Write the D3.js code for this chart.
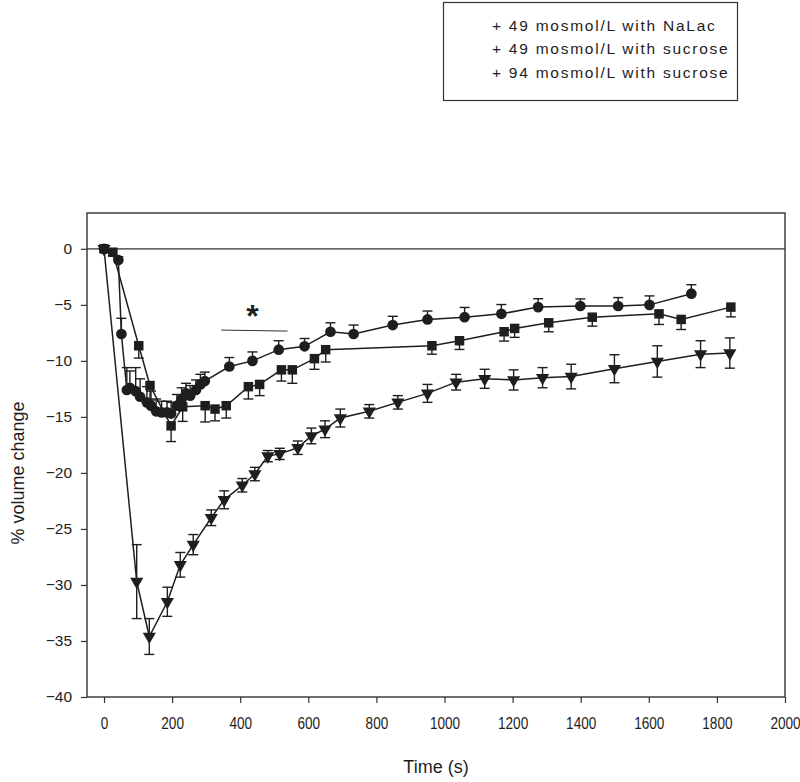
<!DOCTYPE html>
<html>
<head>
<meta charset="utf-8">
<script src="https://cdn.jsdelivr.net/npm/d3@7"></script>
<style>
  html, body { margin: 0; padding: 0; background: #fff; }
  svg { display: block; font-family: "Liberation Sans", Arial, sans-serif; }
</style>
</head>
<body>
<svg id="chart" width="800" height="782"></svg>
<script>
// ---- data ----
const legendLabels = ["+ 49 mosmol/L with NaLac", "+ 49 mosmol/L with sucrose", "+ 94 mosmol/L with sucrose"];

const nalacTime = [0, 42, 51, 67, 76, 93, 106, 126, 138, 153, 169, 185, 197, 214, 228, 241, 253, 270, 283, 296, 368, 436, 513, 589, 665, 733, 848, 950, 1059, 1167, 1275, 1399, 1510, 1602, 1725];
const nalacValue = [0, -1.0, -7.6, -12.6, -12.4, -12.7, -13.2, -13.7, -14.0, -14.5, -14.6, -14.6, -14.7, -14.0, -13.4, -12.9, -13.1, -12.6, -12.1, -11.8, -10.5, -10.0, -9.0, -8.7, -7.4, -7.6, -6.8, -6.3, -6.1, -5.8, -5.2, -5.1, -5.1, -5.0, -4.0];
const nalacErr = [0, 0.3, 1.4, 2.0, 1.5, 2.1, 1.6, 1.4, 1.3, 1.1, 1.0, 1.0, 1.0, 1.0, 1.0, 0.9, 0.9, 0.9, 0.9, 0.8, 0.8, 0.8, 0.8, 0.7, 0.8, 0.8, 0.78, 0.75, 0.87, 0.83, 0.75, 0.63, 0.75, 0.8, 0.8];

const suc49Time = [0, 26, 102, 135, 197, 231, 297, 326, 359, 424, 457, 521, 553, 618, 651, 963, 1044, 1175, 1206, 1306, 1434, 1630, 1695, 1841];
const suc49Value = [0, -0.3, -8.65, -12.2, -15.8, -14.1, -14.0, -14.3, -14.0, -12.3, -12.1, -10.8, -10.8, -9.8, -9.0, -8.65, -8.2, -7.4, -7.1, -6.6, -6.1, -5.8, -6.3, -5.2];
const suc49Err = [0, 0.3, 1.1, 1.3, 1.4, 1.3, 1.45, 1.05, 1.1, 1.1, 1.0, 1.0, 1.2, 0.95, 1.1, 0.75, 0.78, 0.83, 0.8, 0.8, 0.8, 0.95, 0.9, 0.87];

const suc94Time = [0, 96, 133, 186, 224, 262, 315, 353, 406, 443, 481, 516, 569, 609, 649, 694, 779, 863, 950, 1034, 1118, 1203, 1288, 1372, 1499, 1625, 1752, 1838];
const suc94Value = [0, -29.7, -34.6, -31.5, -28.2, -26.4, -24.0, -22.4, -21.1, -20.1, -18.5, -18.3, -17.75, -16.7, -16.1, -15.1, -14.5, -13.7, -12.9, -11.9, -11.6, -11.7, -11.5, -11.4, -10.7, -10.05, -9.4, -9.3];
const suc94Err = [0, 3.3, 1.6, 1.3, 1.1, 0.9, 0.7, 0.8, 0.6, 0.6, 0.5, 0.5, 0.6, 0.7, 0.75, 0.8, 0.6, 0.6, 0.8, 0.7, 0.85, 0.9, 0.9, 1.1, 1.25, 1.4, 1.2, 1.35];

const xTicks = [0, 200, 400, 600, 800, 1000, 1200, 1400, 1600, 1800, 2000];
const yTicks = [0, -5, -10, -15, -20, -25, -30, -35, -40];

const sigBar = { t0: 344, t1: 539, v: -7.25, starT: 436, starV: -5.6 };

// ---- layout ----
const svg = d3.select("#chart");
const x = d3.scaleLinear().domain([-50, 2000]).range([87, 785]);
const y = d3.scaleLinear().domain([-40, 3.2]).range([697, 213]);
const ink = "#1e1e1e";

// legend box
const lg = svg.append("g");
lg.append("rect").attr("x", 443.5).attr("y", 2.5).attr("width", 294).attr("height", 98)
  .attr("fill", "none").attr("stroke", "#333").attr("stroke-width", 1.2);
legendLabels.forEach((s, i) => {
  lg.append("text").attr("x", 492).attr("y", 30.5 + i * 23.5)
    .attr("font-size", 15.5).attr("letter-spacing", 1.75).attr("fill", ink).text(s);
});

// frame
svg.append("rect").attr("x", x(-50)).attr("y", y(3.2))
  .attr("width", x(2000) - x(-50)).attr("height", y(-40) - y(3.2))
  .attr("fill", "none").attr("stroke", "#333").attr("stroke-width", 1.4);

// axes
const xAxis = d3.axisBottom(x).tickValues(xTicks).tickSize(6).tickPadding(14).tickFormat(d3.format("d"));
const gx = svg.append("g").attr("transform", `translate(0,${y(-40)})`).call(xAxis);
gx.select(".domain").remove();
gx.selectAll("line").attr("stroke", "#333").attr("stroke-width", 1.2);
gx.selectAll("text").attr("font-size", 17).attr("fill", ink).attr("transform", "scale(0.8,1)");

const yAxis = d3.axisLeft(y).tickValues(yTicks).tickSize(6).tickPadding(9).tickFormat(d3.format("d"));
const gy = svg.append("g").attr("transform", `translate(${x(-50)},0)`).call(yAxis);
gy.select(".domain").remove();
gy.selectAll("line").attr("stroke", "#333").attr("stroke-width", 1.2);
gy.selectAll("text").attr("font-size", 15.5).attr("fill", ink);

// zero line
svg.append("line").attr("x1", x(-50)).attr("x2", x(2000)).attr("y1", y(0)).attr("y2", y(0))
  .attr("stroke", "#333").attr("stroke-width", 1.3);

// titles
svg.append("text").attr("x", 436).attr("y", 773).attr("text-anchor", "middle")
  .attr("font-size", 18).attr("fill", ink).text("Time (s)");
svg.append("text").attr("transform", `translate(24,${y(-20)}) rotate(-90)`).attr("text-anchor", "middle")
  .attr("font-size", 18).attr("fill", ink).text("% volume change");

// significance bar
svg.append("line").attr("x1", x(sigBar.t0)).attr("x2", x(sigBar.t1))
  .attr("y1", y(sigBar.v)).attr("y2", y(sigBar.v) + 1).attr("stroke", "#333").attr("stroke-width", 1);
svg.append("text").attr("x", x(sigBar.starT)).attr("y", y(sigBar.starV) + 15)
  .attr("text-anchor", "middle").attr("font-size", 32).attr("font-weight", "bold").attr("fill", ink).text("*");

// series
function build(ts, vs, es) { return ts.map((t, i) => ({ t, v: vs[i], e: es[i] })); }
const series = [
  { data: build(suc94Time, suc94Value, suc94Err), shape: "tri", dir: "both" },
  { data: build(suc49Time, suc49Value, suc49Err), shape: "sq", dir: "down" },
  { data: build(nalacTime, nalacValue, nalacErr), shape: "circ", dir: "up" }
];
const line = d3.line().x(d => x(d.t)).y(d => y(d.v));
const capW = 5;

series.forEach(s => {
  const g = svg.append("g");
  g.append("path").datum(s.data).attr("d", line).attr("fill", "none")
    .attr("stroke", ink).attr("stroke-width", 1.5);
  s.data.filter(d => d.e > 0.25).forEach(d => {
    const top = s.dir === "down" ? d.v : d.v + d.e;
    const bot = s.dir === "up" ? d.v : d.v - d.e;
    g.append("line").attr("x1", x(d.t)).attr("x2", x(d.t)).attr("y1", y(top)).attr("y2", y(bot))
      .attr("stroke", ink).attr("stroke-width", 1.4);
    if (s.dir !== "down") g.append("line").attr("x1", x(d.t) - capW).attr("x2", x(d.t) + capW)
      .attr("y1", y(top)).attr("y2", y(top)).attr("stroke", ink).attr("stroke-width", 1.4);
    if (s.dir !== "up") g.append("line").attr("x1", x(d.t) - capW).attr("x2", x(d.t) + capW)
      .attr("y1", y(bot)).attr("y2", y(bot)).attr("stroke", ink).attr("stroke-width", 1.4);
  });
  const sym = s.shape === "circ" ? d3.symbolCircle : s.shape === "sq" ? d3.symbolSquare : d3.symbolTriangle;
  const size = s.shape === "circ" ? 90 : s.shape === "sq" ? 90 : 75;
  g.selectAll("path.m").data(s.data).join("path").attr("class", "m")
    .attr("d", d3.symbol().type(sym).size(size))
    .attr("transform", d => `translate(${x(d.t)},${y(d.v)})` + (s.shape === "tri" ? " rotate(180)" : ""))
    .attr("fill", ink);
});
</script>
</body>
</html>
